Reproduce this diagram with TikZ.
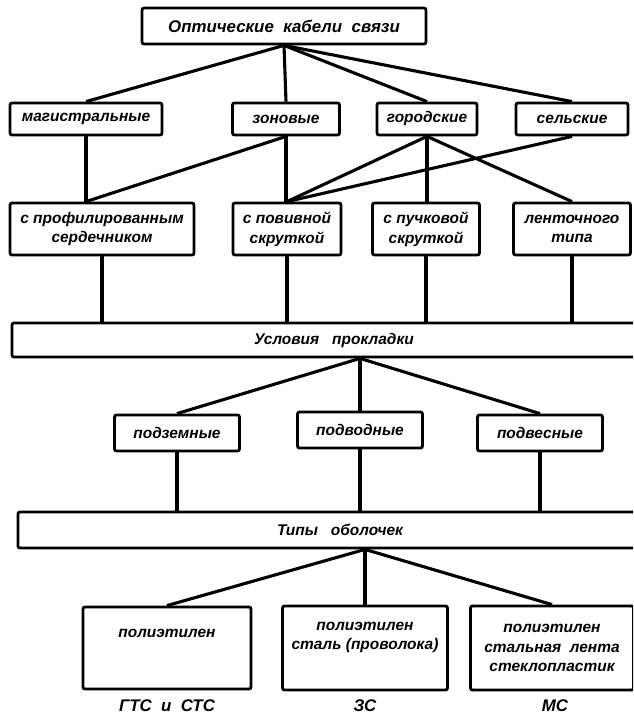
\documentclass[tikz,border=0pt]{standalone}
\usepackage{fontspec}
\setmainfont{Liberation Sans}
\usetikzlibrary{positioning}

\begin{document}
\begin{tikzpicture}[x=0.025cm, y=-0.025cm,
    box/.style={draw, line width=2pt, rounded corners=1.5pt, inner sep=2pt, align=center,
                font=\fontsize{11}{14}\selectfont\bfseries\itshape},
    link/.style={line width=2.2pt},
    tag/.style={font=\fontsize{12}{14}\selectfont\bfseries\itshape}]
    \clip (0,0) rectangle (633,722);

    % Root
    \node[box, minimum width=7.1cm, minimum height=0.9cm, font=\fontsize{12}{14}\selectfont\bfseries\itshape] (okc) at (284,26) {Оптические\ \ кабели\ \ связи};

    % Row 1: purpose
    \node[box, minimum width=3.8cm, minimum height=0.8cm] (mag) at (86,119) {магистральные};
    \node[box, minimum width=2.675cm, minimum height=0.8cm] (zon) at (286,119) {зоновые};
    \node[box, minimum width=2.5cm, minimum height=0.8cm] (gor) at (427,119) {городские};
    \node[box, minimum width=2.8cm, minimum height=0.8cm] (sel) at (572,119) {сельские};

    % Row 2: core design
    \node[box, minimum width=4.6cm, minimum height=1.3cm] (prof) at (102,229) {с профилированным\\сердечником};
    \node[box, minimum width=2.7cm, minimum height=1.3cm] (poviv) at (287,229) {с повивной\\скруткой};
    \node[box, minimum width=2.675cm, minimum height=1.3cm] (puch) at (426,229) {с пучковой\\скруткой};
    \node[box, minimum width=2.925cm, minimum height=1.3cm] (lent) at (572,229) {ленточного\\типа};

    % Laying
    \node[box, minimum width=16.1cm, minimum height=0.85cm] (usl) at (334,340) {Условия\ \ \ прокладки};
    \node[box, minimum width=3.125cm, minimum height=0.9cm] (podz) at (177,433) {подземные};
    \node[box, minimum width=3.125cm, minimum height=0.9cm] (podv) at (360,430) {подводные};
    \node[box, minimum width=3.125cm, minimum height=0.9cm] (podves) at (540,433) {подвесные};

    % Sheaths
    \node[box, minimum width=16.1cm, minimum height=0.9cm] (tipy) at (340,530) {Типы\ \ \ оболочек};
    \node[box, minimum width=4.2cm, minimum height=2.05cm] (pe) at (167,648) {полиэтилен\\[0.6em]};
    \node[box, minimum width=4.125cm, minimum height=2.1cm] (pest) at (365,648) {полиэтилен\\сталь (проволока)\\[0.3em]};
    \node[box, minimum width=4.075cm, minimum height=2.1cm] (pelen) at (552,648) {полиэтилен\\стальная\ \ лента\\стеклопластик};

    % Networks
    \node[tag] (gts) at (167,706) {ГТС\ \ и\ \ СТС};
    \node[tag] (zs) at (365,706) {ЗС};
    \node[tag] (ms) at (555,706) {МС};

    % Links, root to row 1
    \foreach \n in {mag,zon,gor,sel}
        \draw[link] (okc.south) -- (\n.north);

    % Links, row 1 to row 2
    \draw[link] (mag.south) -- (mag.south |- prof.north);
    \draw[link] (zon.south) -- (mag.south |- prof.north);
    \draw[link] (zon.south) -- (zon.south |- poviv.north);
    \draw[link] (gor.south) -- (poviv.north);
    \draw[link] (gor.south) -- (gor.south |- puch.north);
    \draw[link] (gor.south) -- (lent.north);
    \draw[link] (sel.south) -- (poviv.north);

    % Links, row 2 to laying
    \foreach \n in {prof,poviv,puch,lent}
        \draw[link] (\n.south) -- (\n.south |- usl.north);
    \foreach \n in {podz,podv,podves}
        \draw[link] (usl.south -| podv.north) -- (\n.north);

    % Links, laying to sheaths
    \foreach \n in {podz,podv,podves}
        \draw[link] (\n.south) -- (\n.south |- tipy.north);
    \foreach \n in {pe,pest,pelen}
        \draw[link] (tipy.south -| pest.north) -- (\n.north);
\end{tikzpicture}
\end{document}
